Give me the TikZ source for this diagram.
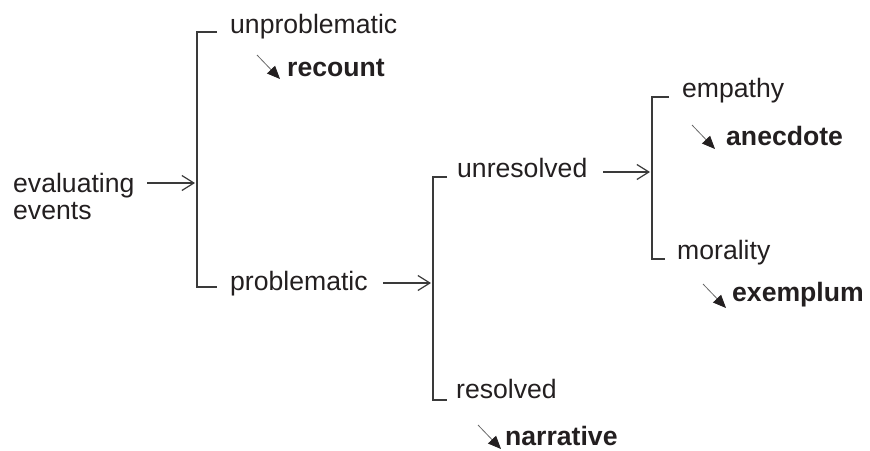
\documentclass[tikz,border=0pt]{standalone}
\usepackage{fontspec}
\setmainfont{Liberation Sans}
\usetikzlibrary{arrows.meta}
\definecolor{ink}{HTML}{231F20}
\definecolor{rule}{HTML}{3A3A3A}
\definecolor{leadgray}{HTML}{6A6A6A}
\begin{document}
\begin{tikzpicture}[x=1pt,y=-1pt,
  lbl/.style={anchor=base west,inner sep=0pt,text=ink,font=\fontsize{26.6}{27}\selectfont},
  res/.style={lbl,font=\fontsize{26.6}{27}\selectfont\bfseries},
  brk/.style={draw=rule,line width=1.7pt},
  flow/.style={draw=rule,line width=1.2pt,-{Straight Barb[length=12pt,width=15pt,line width=1.2pt]}},
  lead/.style={draw=leadgray,line width=0.8pt,-{Triangle[length=13pt,width=11pt,color=ink,fill=ink]}}]
\useasboundingbox (0,0) rectangle (870,450);
% texts
\node[lbl] (ev1) at (13,192) {evaluating};
\node[lbl] (ev2) at (13,219) {events};
\node[lbl] (unp) at (230,33) {unproblematic};
\node[res] (rec) at (287,76) {recount};
\node[lbl] (pro) at (230,290) {problematic};
\node[lbl] (unr) at (457,177) {unresolved};
\node[lbl] (rsd) at (456,398) {resolved};
\node[res] (nar) at (505,445) {narrative};
\node[lbl] (emp) at (682,97) {empathy};
\node[res] (ane) at (726,145) {anecdote};
\node[lbl] (mor) at (677,259) {morality};
\node[res] (exe) at (732,301) {exemplum};
% bracket coordinates
\coordinate (b1t) at (197,32);  \coordinate (b1b) at (197,287); \coordinate (b1m) at (195,183);
\coordinate (b2t) at (433,177); \coordinate (b2b) at (433,400); \coordinate (b2m) at (431,283);
\coordinate (b3t) at (652,97);  \coordinate (b3b) at (652,259); \coordinate (b3m) at (650,172);
% brackets
\draw[brk] (217,32) -- (b1t) -- (b1b) -- (217,287);
\draw[brk] (447,177) -- (b2t) -- (b2b) -- (447,400);
\draw[brk] (669,97) -- (b3t) -- (b3b) -- (665,259);
% flow arrows
\coordinate (a1) at (147,183);
\coordinate (a2) at (383,283);
\coordinate (a3) at (603,172);
\draw[flow] (a1) -- (b1m);
\draw[flow] (a2) -- (b2m);
\draw[flow] (a3) -- (b3m);
% lead arrows
\coordinate (l1) at (257,55);  \coordinate (l1e) at (280,79);
\coordinate (l2) at (692,125); \coordinate (l2e) at (715,149);
\coordinate (l3) at (703,284); \coordinate (l3e) at (726,308);
\coordinate (l4) at (478,425); \coordinate (l4e) at (501,449);
\draw[lead] (l1) -- (l1e);
\draw[lead] (l2) -- (l2e);
\draw[lead] (l3) -- (l3e);
\draw[lead] (l4) -- (l4e);
\end{tikzpicture}
\end{document}
